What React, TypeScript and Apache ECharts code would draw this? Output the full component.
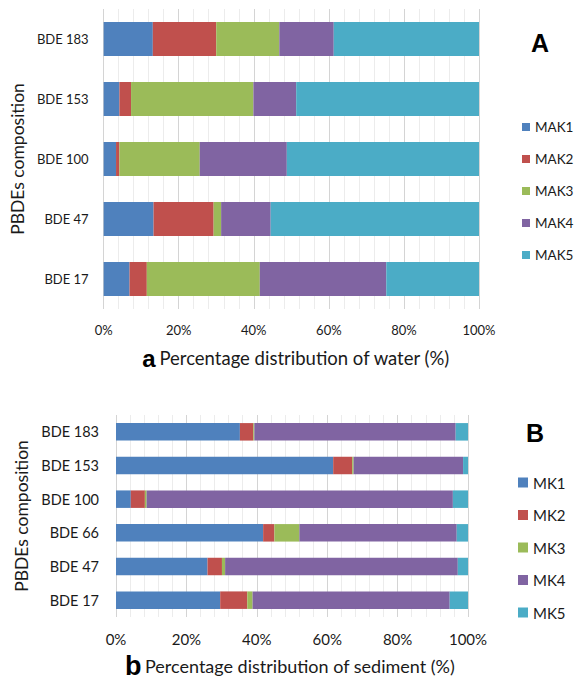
import React, { useEffect, useRef } from "react";
import * as echarts from "echarts";

const categoriesA = ["BDE 183", "BDE 153", "BDE 100", "BDE 47", "BDE 17"];
const namesA = ["MAK1", "MAK2", "MAK3", "MAK4", "MAK5"];
const mak1 = [13.1, 4.2, 3.3, 13.3, 6.9];
const mak2 = [16.9, 3.1, 0.9, 16.0, 4.6];
const mak3 = [16.8, 32.6, 21.4, 2.0, 30.1];
const mak4 = [14.5, 11.4, 23.2, 13.2, 33.7];
const mak5 = [38.7, 48.7, 51.2, 55.5, 24.7];

const categoriesB = ["BDE 183", "BDE 153", "BDE 100", "BDE 66", "BDE 47", "BDE 17"];
const namesB = ["MK1", "MK2", "MK3", "MK4", "MK5"];
const mk1 = [35.2, 61.7, 4.2, 41.8, 26.0, 29.6];
const mk2 = [3.8, 5.4, 4.0, 3.2, 4.1, 7.7];
const mk3 = [0.3, 0.4, 0.5, 7.1, 0.9, 1.5];
const mk4 = [57.2, 31.1, 87.0, 44.7, 66.1, 56.0];
const mk5 = [3.5, 1.4, 4.3, 3.2, 2.9, 5.2];

const xTicks = [0, 20, 40, 60, 80, 100];
const colors = ["#4F81BD", "#C0504D", "#9BBB59", "#8064A2", "#4BACC6"];

const FONT = "Lato, 'Open Sans', sans-serif";
const BOLD = "'Liberation Sans', Arial, sans-serif";
const TXT = "#1a1a1a";

export default function App() {
  const ref = useRef<HTMLDivElement>(null);
  useEffect(() => {
    if (!ref.current) return;
    const chart = echarts.init(ref.current, undefined, { renderer: "svg" });
    const dataA = [mak1, mak2, mak3, mak4, mak5];
    const dataB = [mk1, mk2, mk3, mk4, mk5];

    const xAxisCommon = (fs: number, margin: number) => ({
      type: "value",
      min: xTicks[0],
      max: xTicks[xTicks.length - 1],
      interval: 20,
      axisLine: { show: false },
      axisTick: { show: false },
      minorTick: { show: false, splitNumber: 5 },
      splitLine: { show: true, lineStyle: { color: "#d4d4d4", width: 1 } },
      minorSplitLine: { show: true, lineStyle: { color: "#ececec", width: 1 } },
      axisLabel: {
        formatter: "{value}%",
        fontFamily: FONT,
        fontSize: fs,
        color: TXT,
        margin,
      },
    });

    const option: any = {
      animation: false,
      color: colors,
      textStyle: { fontFamily: FONT },
      grid: [
        { left: 98, top: 9, width: 381, height: 300 },
        { left: 116, top: 415, width: 352, height: 202 },
      ],
      xAxis: [
        { ...xAxisCommon(13, 14), gridIndex: 0 },
        { ...xAxisCommon(15, 14), gridIndex: 1 },
      ],
      yAxis: [
        {
          type: "category",
          gridIndex: 0,
          data: categoriesA,
          inverse: true,
          axisLine: { show: false },
          axisTick: { show: false },
          axisLabel: { fontFamily: FONT, fontSize: 13, color: TXT, margin: 15 },
          name: "PBDEs composition",
          nameLocation: "middle",
          nameRotate: 90,
          nameGap: 71,
          nameTextStyle: { fontFamily: FONT, fontSize: 17.5, color: TXT },
        },
        {
          type: "category",
          gridIndex: 1,
          data: categoriesB,
          inverse: true,
          axisLine: { show: false },
          axisTick: { show: false },
          axisLabel: { fontFamily: FONT, fontSize: 14.5, color: TXT, margin: 17 },
          name: "PBDEs composition",
          nameLocation: "middle",
          nameRotate: 90,
          nameGap: 84,
          nameTextStyle: { fontFamily: FONT, fontSize: 17.5, color: TXT },
        },
      ],
      legend: [
        {
          data: namesA,
          orient: "vertical",
          left: 522,
          top: 120,
          padding: 0,
          itemWidth: 8,
          itemHeight: 8,
          itemGap: 18,
          icon: "rect",
          textStyle: { fontFamily: FONT, fontSize: 13.5, color: TXT },
        },
        {
          data: namesB,
          orient: "vertical",
          left: 518,
          top: 475,
          padding: 0,
          itemWidth: 10,
          itemHeight: 10,
          itemGap: 17.5,
          icon: "rect",
          textStyle: { fontFamily: FONT, fontSize: 15, color: TXT },
        },
      ],
      graphic: [
        {
          type: "text",
          x: 540,
          y: 43,
          style: {
            text: "A",
            fontFamily: BOLD,
            fontWeight: "bold",
            fontSize: 25,
            fill: "#000",
            align: "center",
            verticalAlign: "middle",
          },
        },
        {
          type: "text",
          x: 535,
          y: 433,
          style: {
            text: "B",
            fontFamily: BOLD,
            fontWeight: "bold",
            fontSize: 25,
            fill: "#000",
            align: "center",
            verticalAlign: "middle",
          },
        },
        {
          type: "text",
          x: 296,
          y: 358,
          style: {
            text: "{b|a} {t|Percentage distribution of water (%)}",
            align: "center",
            verticalAlign: "middle",
            rich: {
              b: {
                fontFamily: BOLD,
                fontWeight: "bold",
                fontSize: 24,
                lineHeight: 22,
                fill: "#000",
                color: "#000",
              },
              t: { fontFamily: FONT, fontSize: 18.5, lineHeight: 22, fill: TXT, color: TXT },
            },
          },
        },
        {
          type: "text",
          x: 290,
          y: 666,
          style: {
            text: "{b|b} {t|Percentage distribution of sediment (%)}",
            align: "center",
            verticalAlign: "middle",
            rich: {
              b: {
                fontFamily: BOLD,
                fontWeight: "bold",
                fontSize: 27,
                lineHeight: 22,
                fill: "#000",
                color: "#000",
              },
              t: { fontFamily: FONT, fontSize: 18, lineHeight: 22, fill: TXT, color: TXT },
            },
          },
        },
      ],
      series: [
        ...namesA.map((n, i) => ({
          name: n,
          type: "bar",
          stack: "A",
          xAxisIndex: 0,
          yAxisIndex: 0,
          barWidth: 34,
          data: dataA[i],
          itemStyle: { color: colors[i] },
        })),
        ...namesB.map((n, i) => ({
          name: n,
          type: "bar",
          stack: "B",
          xAxisIndex: 1,
          yAxisIndex: 1,
          barWidth: 17.5,
          data: dataB[i],
          itemStyle: { color: colors[i] },
        })),
      ],
    };
    chart.setOption(option);
    return () => chart.dispose();
  }, []);
  return (
    <div
      ref={ref}
      style={{ position: "absolute", left: 0, top: 0, width: 583, height: 680, background: "#fff" }}
    />
  );
}
